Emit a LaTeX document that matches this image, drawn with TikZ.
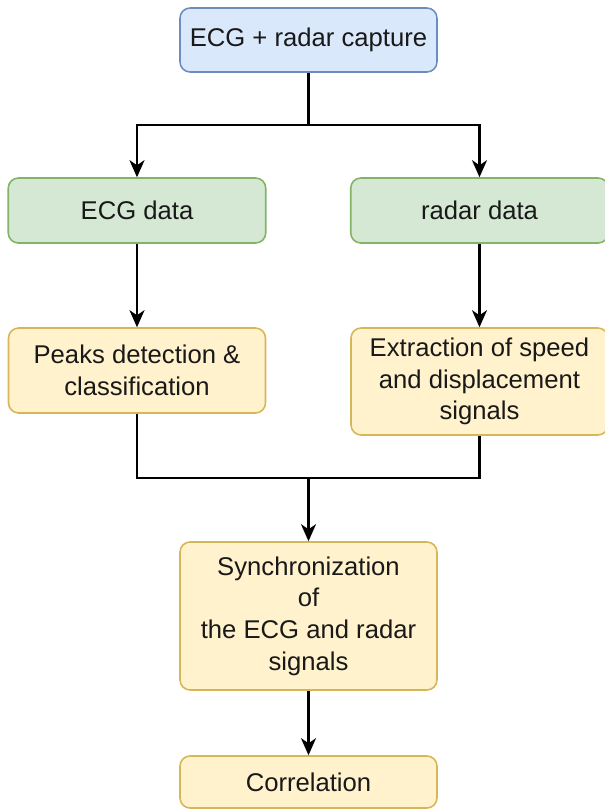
\documentclass[tikz,border=0pt]{standalone}
\usepackage{fontspec}
\setmainfont{Liberation Sans}
\usepackage{xcolor}
\usetikzlibrary{arrows.meta,positioning}

\definecolor{capfill}{HTML}{DAE8FC}
\definecolor{capline}{HTML}{6C8EBF}
\definecolor{datfill}{HTML}{D5E8D4}
\definecolor{datline}{HTML}{82B366}
\definecolor{prcfill}{HTML}{FFF2CC}
\definecolor{prcline}{HTML}{D6B656}

\begin{document}
\begin{tikzpicture}[
  x=0.02cm, y=-0.02cm,
  every node/.style={font=\fontsize{14.6}{18}\selectfont, text=black!90, align=center},
  bcap/.style={draw=capline, fill=capfill, rounded corners=0.2cm, line width=0.9pt, minimum width=5.14cm},
  bdat/.style={draw=datline, fill=datfill, rounded corners=0.2cm, line width=0.9pt, minimum width=5.15cm},
  bprc/.style={draw=prcline, fill=prcfill, rounded corners=0.2cm, line width=0.9pt, minimum width=5.14cm},
  ln/.style ={draw=black, line width=1.3pt},
  arr/.style={-{Stealth[length=3.4mm,width=3mm,inset=1mm]}, line width=1.3pt, black},
]

%% Page size (px of the reference): 605 x 809
\useasboundingbox (0,0) rectangle (605,809);

%% ─── Capture ────────────────────────────────────────────────────────────────
\node[bcap, minimum height=1.28cm] (cap) at (308.5,40) {ECG + radar capture};

%% ─── Raw data ───────────────────────────────────────────────────────────────
\node[bdat, minimum height=1.3cm] (ecg)   at (137,210.5)   {ECG data};
\node[bdat, minimum height=1.3cm] (radar) at (479.5,210.5) {radar data};

%% ─── Processing ─────────────────────────────────────────────────────────────
\node[bprc, minimum height=1.7cm]  (peaks) at (137,370.5)   {Peaks detection \&\\classification};
\node[bprc, minimum height=2.14cm] (extr)  at (479.5,381.5) {Extraction of speed\\and displacement\\signals};

\node[bprc, minimum height=2.96cm] (sync) at (308.5,616) {Synchronization\\of\\the ECG and radar\\signals};
\node[bprc, minimum height=1.04cm] (corr) at (308.5,782) {Correlation};

%% split / merge points of the elbow connectors
\coordinate (split) at (308.5,125);
\coordinate (merge) at (308.5,478);

%% ─── Connectors ─────────────────────────────────────────────────────────────
\draw[ln] (cap.south) -- (split);
\draw[arr] (split) -| (ecg.north);
\draw[arr] (split) -| (radar.north);

\draw[arr] (ecg) -- (peaks);
\draw[arr] (radar) -- (extr);

\draw[ln] (peaks.south) |- (merge) -| (extr.south);
\draw[arr] (merge) -- (sync.north);

\draw[arr] (sync) -- (corr);

\end{tikzpicture}
\end{document}
